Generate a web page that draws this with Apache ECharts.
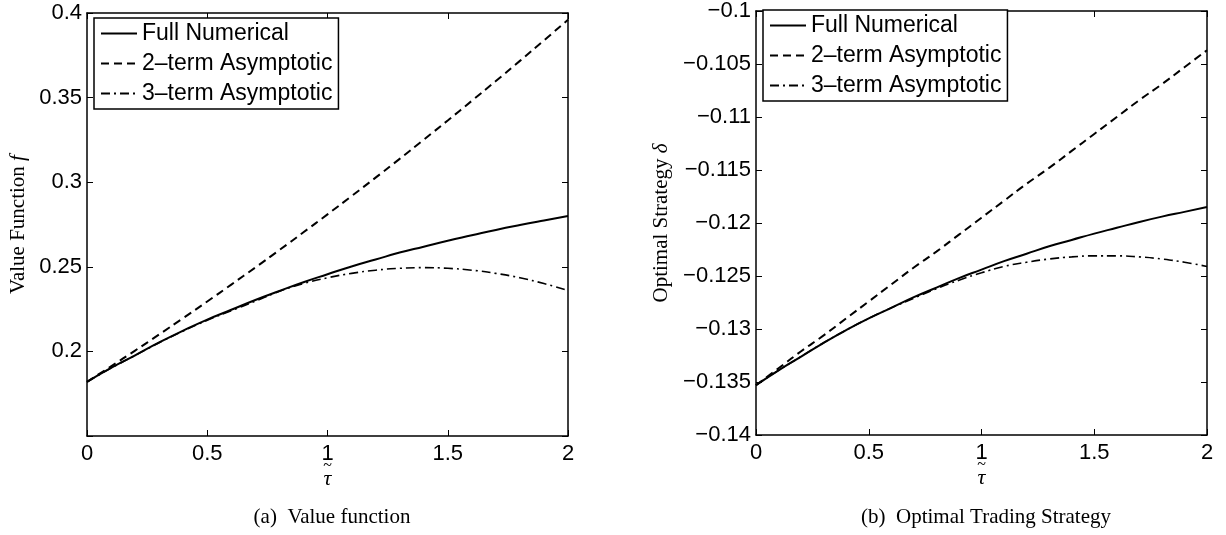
<!DOCTYPE html>
<html>
<head>
<meta charset="utf-8">
<script src="https://cdn.jsdelivr.net/npm/echarts@6/dist/echarts.min.js"></script>
<style>
  html, body { margin: 0; padding: 0; background: #fff; }
  #chart { width: 1226px; height: 535px; }
</style>
</head>
<body>
<div id="chart"></div>
<script>
const tau = [0, 0.1, 0.2, 0.3, 0.4, 0.5, 0.6, 0.7, 0.8, 0.9, 1.0,
    1.1, 1.2, 1.3, 1.4, 1.5, 1.6, 1.7, 1.8, 1.9, 2.0]

// (a) value function
const valueFull = [0.182, 0.1902, 0.1977, 0.2053, 0.2123, 0.2188, 0.2246, 0.2304, 0.2357, 0.2409, 0.2456,
    0.2502, 0.2543, 0.2584, 0.2619, 0.2654, 0.2686, 0.2718, 0.2747, 0.2774, 0.280]
const value2term = [0.182, 0.1912, 0.2005, 0.2100, 0.2197, 0.2295, 0.2395, 0.2496, 0.2599, 0.2704, 0.281,
    0.2918, 0.3027, 0.3138, 0.3251, 0.3365, 0.3481, 0.3598, 0.3717, 0.3838, 0.396]
const value3term = [0.182, 0.1901, 0.1976, 0.2051, 0.2120, 0.2184, 0.2241, 0.2297, 0.2355, 0.2401, 0.2435,
    0.2461, 0.2480, 0.2491, 0.2495, 0.2491, 0.2480, 0.2461, 0.2435, 0.2401, 0.236]

// (b) optimal strategy
const deltaFull = [-0.1353, -0.1339, -0.1326, -0.1313, -0.1301, -0.1290, -0.1280, -0.1270, -0.1261, -0.1252, -0.1244,
    -0.1236, -0.1229, -0.1222, -0.1216, -0.1210, -0.12045, -0.1199, -0.1194, -0.11895, -0.1185]
const delta2term = [-0.1353, -0.1337, -0.1321, -0.1306, -0.1290, -0.1274, -0.1258, -0.1242, -0.1227, -0.1211, -0.1195,
    -0.1179, -0.1163, -0.1148, -0.1132, -0.1116, -0.1100, -0.1084, -0.1069, -0.1053, -0.1037]
const delta3term = [-0.1353, -0.1339, -0.1326, -0.1313, -0.1301, -0.1290, -0.1280, -0.1271, -0.1262, -0.1254, -0.1247,
    -0.1241, -0.1237, -0.1234, -0.1232, -0.1231, -0.1231, -0.1232, -0.1234, -0.1237, -0.1241]

const seriesNames = ['Full Numerical', '2\u2013term Asymptotic', '3\u2013term Asymptotic']

const sans = 'Liberation Sans'
const serif = 'Liberation Serif'

function pairs(ys) {
    return tau.map(function (t, i) { return [t, ys[i]] })
}

function fmt(v) {
    var s = String(Math.round(v * 1000) / 1000)
    return s.replace('-', '\u2212')
}

const lineStyles = [
    { type: 'solid', width: 2 },
    { type: [8, 5], width: 2 },
    { type: [9, 4, 2, 4], width: 1.6 },
]

function makeSeries(gridIndex, data) {
    return data.map(function (ys, i) {
        return {
            name: seriesNames[i],
            type: 'line',
            xAxisIndex: gridIndex * 2,
            yAxisIndex: gridIndex * 2,
            data: pairs(ys),
            symbol: 'none',
            smooth: true,
            color: '#000',
            lineStyle: Object.assign({ color: '#000' }, lineStyles[i]),
            animation: false,
            z: 3 - i,
        }
    })
}

// onZero off, otherwise the y axis ticks flip outward
const tick = { inside: true, length: 6, lineStyle: { color: '#000', width: 1 } }
const axisLn = { onZero: false, lineStyle: { color: '#000', width: 1.5 } }

function xAxes(gridIndex) {
    return [
        {
            type: 'value', gridIndex: gridIndex, position: 'bottom', min: 0, max: 2, interval: 0.5,
            name: '{a|~}\n{t|\u03C4}', nameLocation: 'middle', nameGap: 26,
            nameMoveOverlap: false,
            nameTextStyle: {
                rich: {
                    a: { fontFamily: serif, fontSize: 16, lineHeight: 8, color: '#000' },
                    t: { fontFamily: serif, fontStyle: 'italic', fontSize: 22, lineHeight: 18, color: '#000' },
                },
            },
            axisLine: axisLn,
            axisTick: tick,
            axisLabel: { color: '#000', fontFamily: sans, fontSize: 22, margin: 7, formatter: fmt },
            splitLine: { show: false },
        },
        {
            type: 'value', gridIndex: gridIndex, position: 'top', min: 0, max: 2, interval: 0.5,
            axisLine: axisLn,
            axisTick: tick,
            axisLabel: { show: false },
            splitLine: { show: false },
        },
    ]
}

function yAxes(gridIndex, min, max, interval, name, hideMin, gap) {
    return [
        {
            type: 'value', gridIndex: gridIndex, position: 'left', min: min, max: max, interval: interval,
            name: name, nameLocation: 'middle', nameGap: gap, nameRotate: 90,
            nameMoveOverlap: false,
            nameTextStyle: {
                rich: {
                    n: { fontFamily: serif, fontSize: 21, color: '#000' },
                    i: { fontFamily: serif, fontStyle: 'italic', fontSize: 21, color: '#000' },
                },
            },
            axisLine: axisLn,
            axisTick: tick,
            axisLabel: {
                color: '#000', fontFamily: sans, fontSize: 22, margin: 5,
                formatter: function (v) {
                    if (hideMin && Math.abs(v - min) < 1e-9) return ''
                    return fmt(v)
                },
            },
            splitLine: { show: false },
        },
        {
            type: 'value', gridIndex: gridIndex, position: 'right', min: min, max: max, interval: interval,
            axisLine: axisLn,
            axisTick: tick,
            axisLabel: { show: false },
            splitLine: { show: false },
        },
    ]
}

function makeLegend(left, top) {
    return {
        data: seriesNames,
        orient: 'vertical',
        left: left,
        top: top,
        itemWidth: 36,
        itemHeight: 14,
        itemGap: 5,
        padding: [3, 6, 3, 6],
        borderColor: '#000',
        borderWidth: 1.5,
        backgroundColor: '#fff',
        selectedMode: false,
        itemStyle: { opacity: 0 },
        textStyle: { fontFamily: sans, fontSize: 23, color: '#000', lineHeight: 25 },
    }
}

var chartDom = document.getElementById('chart')
var myChart = echarts.init(chartDom)
var option

var series = makeSeries(0, [valueFull, value2term, value3term])
    .concat(makeSeries(1, [deltaFull, delta2term, delta3term]))

option = {
    backgroundColor: '#fff',
    animation: false,
    title: [
        {
            text: '(a)  Value function', left: 327, top: 502, textAlign: 'center',
            textStyle: { fontFamily: serif, fontSize: 21, fontWeight: 'normal', color: '#000' },
        },
        {
            text: '(b)  Optimal Trading Strategy', left: 981, top: 502, textAlign: 'center',
            textStyle: { fontFamily: serif, fontSize: 21, fontWeight: 'normal', color: '#000' },
        },
    ],
    legend: [makeLegend(94, 18), makeLegend(763, 10)],
    grid: [
        { left: 87, top: 13, width: 481, height: 423 },
        { left: 756, top: 3, width: 451, height: 432 },
    ],
    xAxis: xAxes(0).concat(xAxes(1)),
    yAxis: yAxes(0, 0.15, 0.4, 0.05, '{n|Value Function }{i|f}', true, 58)
        .concat(yAxes(1, -0.14, -0.1, 0.005, '{n|Optimal Strategy }{i|\u03B4}', false, 84)),
    series: series,
}

option && myChart.setOption(option)
</script>
</body>
</html>
